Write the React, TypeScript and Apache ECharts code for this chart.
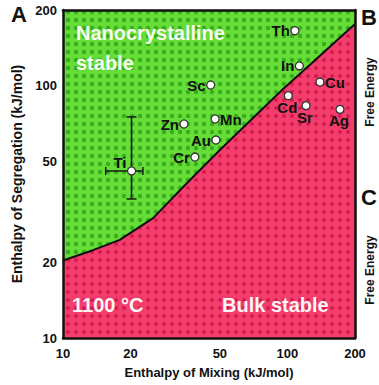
import { useEffect, useRef } from 'react';
import * as echarts from 'echarts';

// ---- data ----
const axisTicks = [10, 20, 50, 100, 200];
const boundaryMixing = [10, 13.6, 17.9, 25.2, 35.7, 50, 94.6, 200];
const boundarySegregation = [20.3, 22.3, 24.5, 29.9, 41.2, 55.7, 96.3, 176];
const elements = ['Ti', 'Zn', 'Cr', 'Au', 'Mn', 'Sc', 'Th', 'In', 'Cu', 'Cd', 'Sr', 'Ag'];
const mixing = [20.2, 34.6, 38.7, 48.0, 47.6, 45.5, 108, 113, 139.6, 100.9, 121, 171.4];
const segregation = [46, 70.6, 52.2, 61.0, 73.9, 100.8, 165.5, 120, 103.6, 91.4, 83.5, 80.7];
const labelSide = ['topleft', 'left', 'left', 'left', 'right', 'left', 'left', 'left', 'right', 'bottom', 'bottom', 'bottom'];
const tiError = [20.2, 46, 15.5, 22.7, 35.6, 75.3]; // x, y, xLow, xHigh, yLow, yHigh

const FONT = '"Liberation Sans", Arial, Helvetica, sans-serif';

function makePattern(bg: string, dot: string, size: number, round: boolean, r: number) {
  const c = document.createElement('canvas');
  c.width = size;
  c.height = size;
  const ctx = c.getContext('2d')!;
  ctx.fillStyle = bg;
  ctx.fillRect(0, 0, size, size);
  ctx.fillStyle = dot;
  if (round) {
    ctx.beginPath();
    ctx.arc(size / 2, size / 2, r, 0, Math.PI * 2);
    ctx.fill();
  } else {
    ctx.fillRect(size / 2 - r, size / 2 - r, r * 2, r * 2);
  }
  return { image: c, repeat: 'repeat', imageWidth: size, imageHeight: size } as any;
}

export default function App() {
  const ref = useRef<HTMLDivElement>(null);
  useEffect(() => {
    document.body.style.margin = '0';
    const chart = echarts.init(ref.current!, null, { renderer: 'svg' });
    const green = makePattern('#66dd36', '#38ac20', 8, true, 2.2);
    const red = makePattern('#f33d6c', '#cf1646', 8, false, 1.6);

    const pointData = elements.map((name, i) => ({ name, value: [mixing[i], segregation[i], i] }));

    const axisLabel = {
      customValues: axisTicks,
      fontFamily: FONT,
      fontWeight: 'bold',
      fontSize: 13,
      color: '#111',
    };

    chart.setOption({
      animation: false,
      grid: { left: 63, top: 10, width: 292, height: 328 },
      xAxis: [
        {
          type: 'log', logBase: 10, min: 10, max: 200, position: 'bottom', z: 10,
          axisLine: { show: true, onZero: false, lineStyle: { color: '#111', width: 2.5 } },
          axisTick: { show: false },
          splitLine: { show: false },
          axisLabel: { ...axisLabel, margin: 9 },
          name: 'Enthalpy of Mixing (kJ/mol)',
          nameLocation: 'middle',
          nameGap: 28,
          nameTextStyle: { fontFamily: FONT, fontWeight: 'bold', fontSize: 13, color: '#111' },
        },
        {
          type: 'log', logBase: 10, min: 10, max: 200, position: 'top', z: 10,
          axisLine: { show: true, onZero: false, lineStyle: { color: '#111', width: 2.5 } },
          axisTick: { show: false }, axisLabel: { show: false }, splitLine: { show: false },
        },
      ],
      yAxis: [
        {
          type: 'log', logBase: 10, min: 10, max: 200, position: 'left', z: 10,
          axisLine: { show: true, onZero: false, lineStyle: { color: '#111', width: 2.5 } },
          axisTick: { show: false },
          splitLine: { show: false },
          axisLabel: { ...axisLabel, margin: 6 },
          name: 'Enthalpy of Segregation (kJ/mol)',
          nameLocation: 'middle',
          nameGap: 34,
          nameTextStyle: { fontFamily: FONT, fontWeight: 'bold', fontSize: 14, color: '#111' },
        },
        {
          type: 'log', logBase: 10, min: 10, max: 200, position: 'right', z: 10,
          axisLine: { show: true, onZero: false, lineStyle: { color: '#111', width: 2.5 } },
          axisTick: { show: false }, axisLabel: { show: false }, splitLine: { show: false },
        },
      ],
      series: [
        {
          type: 'line', silent: true, symbol: 'none', z: 1,
          data: [[10, 200], [200, 200]],
          lineStyle: { width: 0 },
          areaStyle: { origin: 'start', color: green, opacity: 1 },
        },
        {
          type: 'line', silent: true, symbol: 'none', z: 2,
          data: boundaryMixing.map((x, i) => [x, boundarySegregation[i]]),
          lineStyle: { color: '#111', width: 2 },
          areaStyle: { origin: 'start', color: red, opacity: 1 },
        },
        {
          type: 'custom', silent: true, z: 3,
          data: [tiError],
          renderItem: (_p: any, api: any) => {
            const x = api.value(0), y = api.value(1);
            const xl = api.coord([api.value(2), y]);
            const xh = api.coord([api.value(3), y]);
            const yl = api.coord([x, api.value(4)]);
            const yh = api.coord([x, api.value(5)]);
            const st = { stroke: '#1a1a1a', lineWidth: 1.5 };
            return {
              type: 'group',
              children: [
                { type: 'line', shape: { x1: xl[0], y1: xl[1], x2: xh[0], y2: xh[1] }, style: st },
                { type: 'line', shape: { x1: yl[0], y1: yl[1], x2: yh[0], y2: yh[1] }, style: st },
                { type: 'line', shape: { x1: xl[0], y1: xl[1] - 4, x2: xl[0], y2: xl[1] + 4 }, style: st },
                { type: 'line', shape: { x1: xh[0], y1: xh[1] - 4, x2: xh[0], y2: xh[1] + 4 }, style: st },
                { type: 'line', shape: { x1: yl[0] - 5, y1: yl[1], x2: yl[0] + 5, y2: yl[1] }, style: st },
                { type: 'line', shape: { x1: yh[0] - 5, y1: yh[1], x2: yh[0] + 5, y2: yh[1] }, style: st },
              ],
            };
          },
        },
        {
          type: 'custom', silent: true, z: 4,
          data: pointData,
          renderItem: (_p: any, api: any) => {
            const c = api.coord([api.value(0), api.value(1)]);
            const idx = api.value(2);
            const side = labelSide[idx];
            let tx = c[0], ty = c[1];
            let align = 'center', va = 'middle';
            if (side === 'left') { tx = c[0] - 5; align = 'right'; }
            else if (side === 'right') { tx = c[0] + 5; align = 'left'; }
            else if (side === 'bottom') { tx = c[0] - 1; ty = c[1] + 4; va = 'top'; }
            else if (side === 'topleft') { tx = c[0] - 5; ty = c[1] - 8; align = 'right'; }
            return {
              type: 'group',
              children: [
                {
                  type: 'circle',
                  shape: { cx: c[0], cy: c[1], r: 4 },
                  style: { fill: '#ffffff', stroke: '#333', lineWidth: 1.3 },
                },
                {
                  type: 'text',
                  x: tx, y: ty,
                  style: {
                    text: elements[idx],
                    font: `bold 15px ${FONT}`,
                    fill: '#111',
                    stroke: 'none',
                    lineWidth: 0,
                    align, verticalAlign: va,
                  },
                },
              ],
            };
          },
        },
      ],
      graphic: [
        { type: 'text', left: 11, top: 3, style: { text: 'A', font: `bold 22px ${FONT}`, fill: '#111' } },
        { type: 'text', left: 361, top: 6, style: { text: 'B', font: `bold 22px ${FONT}`, fill: '#111' } },
        { type: 'text', left: 361, top: 186, style: { text: 'C', font: `bold 22px ${FONT}`, fill: '#111' } },
        { type: 'text', x: 370, y: 92, rotation: Math.PI / 2, style: { text: 'Free Energy', font: `bold 12px ${FONT}`, fill: '#111', align: 'center', verticalAlign: 'middle' } },
        { type: 'text', x: 370, y: 270, rotation: Math.PI / 2, style: { text: 'Free Energy', font: `bold 12px ${FONT}`, fill: '#111', align: 'center', verticalAlign: 'middle' } },
        { type: 'text', x: 76, y: 33, z: 20, style: { text: 'Nanocrystalline', font: `bold 20px ${FONT}`, fill: '#f6fff2', verticalAlign: 'middle' } },
        { type: 'text', x: 76, y: 63, z: 20, style: { text: 'stable', font: `bold 20px ${FONT}`, fill: '#f6fff2', verticalAlign: 'middle' } },
        { type: 'text', x: 72, y: 305, z: 20, style: { text: '1100 °C', font: `bold 20px ${FONT}`, fill: '#fff4f6', verticalAlign: 'middle' } },
        { type: 'text', x: 222, y: 305, z: 20, style: { text: 'Bulk stable', font: `bold 20px ${FONT}`, fill: '#fff4f6', verticalAlign: 'middle' } },
      ],
    });
    return () => chart.dispose();
  }, []);
  return <div ref={ref} style={{ width: 379, height: 385 }} />;
}
